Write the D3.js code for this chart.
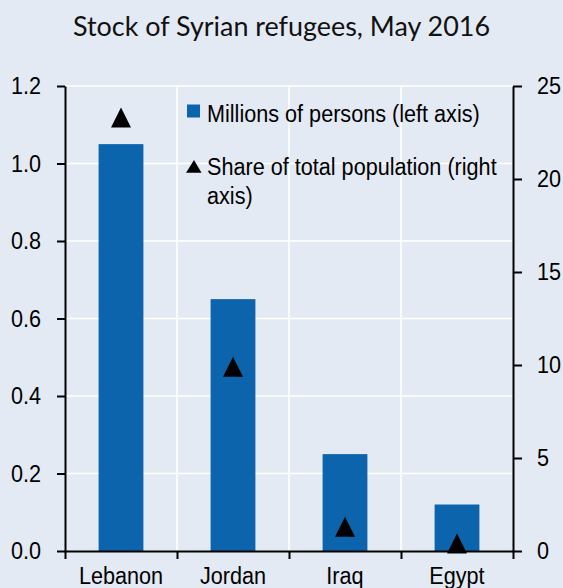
<!DOCTYPE html>
<html>
<head>
<meta charset="utf-8">
<script src="https://cdn.jsdelivr.net/npm/d3@7"></script>
<style>
  html, body { margin: 0; padding: 0; background: #e4eaf3; }
  svg { display: block; }
</style>
</head>
<body>
<svg id="chart" width="563" height="588"></svg>
<script>
// Syrian refugees by host country, May 2016
const countries = ["Lebanon", "Jordan", "Iraq", "Egypt"];
const refugeesMillions = [1.05, 0.65, 0.25, 0.12];   // left axis
const shareOfPopulation = [23.3, 9.9, 1.3, 0.4];      // right axis, percent
const leftTicks = [0, 0.2, 0.4, 0.6, 0.8, 1.0, 1.2];
const rightTicks = [0, 5, 10, 15, 20, 25];
const titleText = "Stock of Syrian refugees, May 2016";
const legendLabels = ["Millions of persons (left axis)", "Share of total population (right", "axis)"];

const W = 563, H = 588;
const m = { left: 65, right: 50, top: 86, bottom: 37 };
const x0 = m.left, x1 = W - m.right, y0 = H - m.bottom, y1 = m.top;

const BG = "#e4eaf3", BAR = "#0c64ac", INK = "#000";
const AXIS_FONT = "'Liberation Sans', Arial, sans-serif";
const FONT_SIZE = 23.5;
const SQUEEZE = 0.92;

const svg = d3.select("#chart");
svg.append("rect").attr("width", W).attr("height", H).attr("fill", BG);

const x = d3.scaleBand().domain(countries).range([x0, x1]).paddingInner(0.6).paddingOuter(0.3);
const edge = d3.scaleLinear().domain([0, countries.length]).range([x0, x1]);
const yL = d3.scaleLinear().domain([0, 1.2]).range([y0, y1]);
const yR = d3.scaleLinear().domain([0, 25]).range([y0, y1]);

// narrow the sans-serif labels slightly
function squeeze(sel) {
  sel.each(function () {
    const len = this.getComputedTextLength();
    d3.select(this).attr("textLength", len * SQUEEZE).attr("lengthAdjust", "spacingAndGlyphs");
  });
}

// gridlines
const grid = svg.append("g").attr("stroke", "#fff").attr("stroke-width", 1.6);
grid.selectAll("line.h").data(leftTicks.filter(d => d > 0)).join("line")
  .attr("x1", x0).attr("x2", x1).attr("y1", d => yL(d)).attr("y2", d => yL(d));
grid.selectAll("line.v").data(d3.range(1, countries.length)).join("line")
  .attr("x1", d => edge(d)).attr("x2", d => edge(d)).attr("y1", y1).attr("y2", y0);

// bars
svg.append("g").selectAll("rect").data(countries).join("rect")
  .attr("x", d => x(d)).attr("width", x.bandwidth())
  .attr("y", (d, i) => yL(refugeesMillions[i]))
  .attr("height", (d, i) => y0 - yL(refugeesMillions[i]))
  .attr("fill", BAR);

// triangles
const tri = s => `M0,${-s / 2}L${s / 2},${s / 2}L${-s / 2},${s / 2}Z`;
svg.append("g").selectAll("path").data(countries).join("path")
  .attr("d", tri(20))
  .attr("transform", (d, i) => `translate(${x(d) + x.bandwidth() / 2},${yR(shareOfPopulation[i])})`)
  .attr("fill", INK);

// axes
function styleAxis(g) {
  g.select(".domain").attr("stroke", INK).attr("stroke-width", 2);
  g.selectAll(".tick line").attr("stroke", INK).attr("stroke-width", 2);
  g.selectAll("text").attr("fill", INK).attr("font-family", AXIS_FONT).attr("font-size", FONT_SIZE);
}

const axL = svg.append("g").attr("transform", `translate(${x0},0)`)
  .call(d3.axisLeft(yL).tickValues(leftTicks).tickFormat(d3.format(".1f")).tickSize(8).tickPadding(16).tickSizeOuter(0));
styleAxis(axL);
axL.selectAll("text").call(squeeze);

const axR = svg.append("g").attr("transform", `translate(${x1},0)`)
  .call(d3.axisRight(yR).tickValues(rightTicks).tickFormat(d3.format("d")).tickSize(9).tickPadding(15).tickSizeOuter(0));
styleAxis(axR);
axR.selectAll("text").call(squeeze);

const axB = svg.append("g").attr("transform", `translate(0,${y0})`)
  .call(d3.axisBottom(edge).tickValues(d3.range(0, countries.length + 1)).tickFormat("").tickSize(8).tickSizeOuter(0));
styleAxis(axB);

svg.append("g").selectAll("text").data(countries).join("text")
  .attr("x", d => x(d) + x.bandwidth() / 2).attr("y", 584)
  .attr("text-anchor", "middle").attr("font-family", AXIS_FONT).attr("font-size", FONT_SIZE).attr("fill", INK)
  .text(d => d).call(squeeze);

// title
svg.append("text").attr("x", W / 2).attr("y", 36).attr("text-anchor", "middle")
  .attr("font-family", "Lato, 'Open Sans', sans-serif").attr("font-size", 26).attr("fill", "#111")
  .text(titleText).attr("textLength", 417).attr("lengthAdjust", "spacingAndGlyphs");

// legend
const lg = svg.append("g");
lg.append("rect").attr("x", 187).attr("y", 104.5).attr("width", 13).attr("height", 13).attr("fill", BAR);
lg.append("path").attr("d", "M194,160L201.5,172.7L186,172.7Z").attr("fill", INK);
const legendY = [121.5, 175, 204];
const legendX = [207, 207, 207];
lg.selectAll("text").data(legendLabels).join("text")
  .attr("x", (d, i) => legendX[i]).attr("y", (d, i) => legendY[i])
  .attr("font-family", AXIS_FONT).attr("font-size", FONT_SIZE).attr("fill", INK)
  .text(d => d).call(squeeze);
</script>
</body>
</html>
